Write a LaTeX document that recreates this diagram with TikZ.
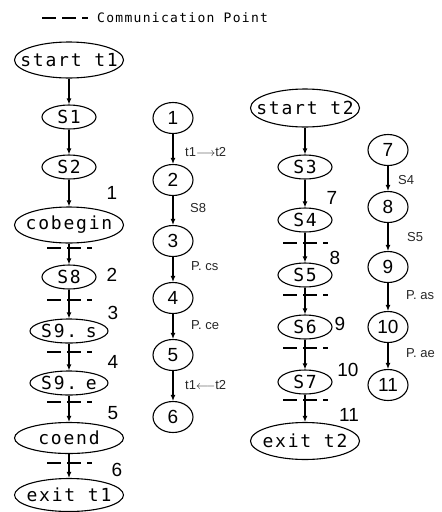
\documentclass[tikz,border=0pt]{standalone}
\usepackage{fontspec}
\setmainfont{Liberation Sans}
\newfontfamily\monofnt[LetterSpace=10]{DejaVu Sans Mono}
\usetikzlibrary{shapes.geometric, arrows.meta}

% centred text of zero width, so the ellipse size comes from its minimum size only
\newcommand\ctext[1]{\makebox[0pt]{#1}}

\begin{document}
\begin{tikzpicture}[x=1pt, y=-1pt,
  ov/.style={draw, ellipse, line width=1.1pt, inner sep=0pt,
             font=\monofnt\fontsize{18}{18}\selectfont},
  bigov/.style={ov, minimum width=109pt, minimum height=36pt},
  smallov/.style={ov, minimum width=54pt, minimum height=24pt},
  midov/.style={ov, minimum width=78pt, minimum height=24pt},
  numov/.style={draw, ellipse, line width=1.1pt, inner sep=0pt,
                minimum width=40pt, minimum height=31pt,
                font=\fontsize{19}{19}\selectfont},
  flowarr/.style={-{Latex[length=6pt,width=5pt]}, line width=1.2pt},
  commline/.style={line width=1.3pt, dash pattern=on 14pt off 6pt},
  ptlab/.style={inner sep=0pt, font=\fontsize{19}{19}\selectfont},
  edgelab/.style={anchor=west, inner sep=0pt, text=black!85,
                  font=\fontsize{13}{13}\selectfont},
]
\useasboundingbox (0,0) rectangle (442,512);

% legend
\coordinate (lg1) at (42,18);
\coordinate (lg2) at (88,18);
\draw[commline] (lg1) -- (lg2);
\node[anchor=west, inner sep=0pt, font=\monofnt\fontsize{13}{13}\selectfont]
  (lgtext) at (97,18) {Communication Point};

% thread t1
\node[bigov] (st1) at (69,60) {\ctext{start t1}};
\node[smallov] (s1) at (69,117) {\ctext{S1}};
\node[smallov] (s2) at (69,167) {\ctext{S2}};
\node[bigov] (cob) at (69,225) {\ctext{cobegin}};
\node[smallov] (s8) at (69,277) {\ctext{S8}};
\node[midov] (s9s) at (69,331) {\ctext{S9.\kern-4pt\ s}};
\node[midov] (s9e) at (69,383) {\ctext{S9.\kern-4pt\ e}};
\node[bigov, minimum height=31pt] (coe) at (69,438) {\ctext{coend}};
\node[bigov, minimum height=33pt] (ex1) at (69,495) {\ctext{exit t1}};

\draw[flowarr] (st1) -- (s1);
\draw[flowarr] (s1) -- (s2);
\draw[flowarr] (s2) -- (cob);
\draw[flowarr] (cob) -- (s8);
\draw[flowarr] (s8) -- (s9s);
\draw[flowarr] (s9s) -- (s9e);
\draw[flowarr] (s9e) -- (coe);
\draw[flowarr] (coe) -- (ex1);

\foreach \y [count=\i] in {248,300,352,402,463} {
  \coordinate (ca\i) at (47,\y);
  \coordinate (cb\i) at (92,\y);
  \draw[commline] (ca\i) -- (cb\i);
}

\node[ptlab] (p1) at (112,193) {1};
\node[ptlab] (p2) at (112,275) {2};
\node[ptlab] (p3) at (113,313) {3};
\node[ptlab] (p4) at (113,362) {4};
\node[ptlab] (p5) at (113,413) {5};
\node[ptlab] (p6) at (117,470) {6};

% states of t1
\node[numov] (n1) at (173,118) {1};
\node[numov] (n2) at (173,180) {2};
\node[numov] (n3) at (173,241) {3};
\node[numov] (n4) at (173,298) {4};
\node[numov] (n5) at (173,355) {5};
\node[numov] (n6) at (173,417) {6};

\draw[flowarr] (n1) -- (n2);
\draw[flowarr] (n2) -- (n3);
\draw[flowarr] (n3) -- (n4);
\draw[flowarr] (n4) -- (n5);
\draw[flowarr] (n5) -- (n6);

\node[edgelab] (e12) at (185,152) {t1$\longrightarrow$t2};
\node[edgelab] (e23) at (190,208) {S8};
\node[edgelab] (e34) at (191,266) {P. cs};
\node[edgelab] (e45) at (191,325) {P. ce};
\node[edgelab] (e56) at (185,385) {t1$\longleftarrow$t2};

% thread t2
\node[bigov, minimum height=38pt] (st2) at (305,108) {\ctext{start t2}};
\node[smallov] (s3) at (305,167) {\ctext{S3}};
\node[smallov] (s4) at (305,220) {\ctext{S4}};
\node[smallov] (s5) at (305,275) {\ctext{S5}};
\node[smallov] (s6) at (305,327) {\ctext{S6}};
\node[smallov] (s7) at (305,382) {\ctext{S7}};
\node[bigov, minimum height=37pt] (ex2) at (305,441) {\ctext{exit t2}};

\draw[flowarr] (st2) -- (s3);
\draw[flowarr] (s3) -- (s4);
\draw[flowarr] (s4) -- (s5);
\draw[flowarr] (s5) -- (s6);
\draw[flowarr] (s6) -- (s7);
\draw[flowarr] (s7) -- (ex2);

\foreach \y [count=\i] in {243,295,348,400} {
  \coordinate (cc\i) at (283,\y);
  \coordinate (cd\i) at (328,\y);
  \draw[commline] (cc\i) -- (cd\i);
}

\node[ptlab] (p7) at (332,198) {7};
\node[ptlab] (p8) at (335,258) {8};
\node[ptlab] (p9) at (340,324) {9};
\node[ptlab] (p10) at (348,370) {10};
\node[ptlab] (p11) at (349,415) {11};

% states of t2
\node[numov] (n7) at (388,150) {7};
\node[numov] (n8) at (388,207) {8};
\node[numov] (n9) at (388,267) {9};
\node[numov] (n10) at (388,327) {10};
\node[numov] (n11) at (388,385) {11};

\draw[flowarr] (n7) -- (n8);
\draw[flowarr] (n8) -- (n9);
\draw[flowarr] (n9) -- (n10);
\draw[flowarr] (n10) -- (n11);

\node[edgelab] (e78) at (398,180) {S4};
\node[edgelab] (e89) at (407,237) {S5};
\node[edgelab] (e910) at (406,295) {P. as};
\node[edgelab] (e1011) at (406,353) {P. ae};
\end{tikzpicture}
\end{document}
